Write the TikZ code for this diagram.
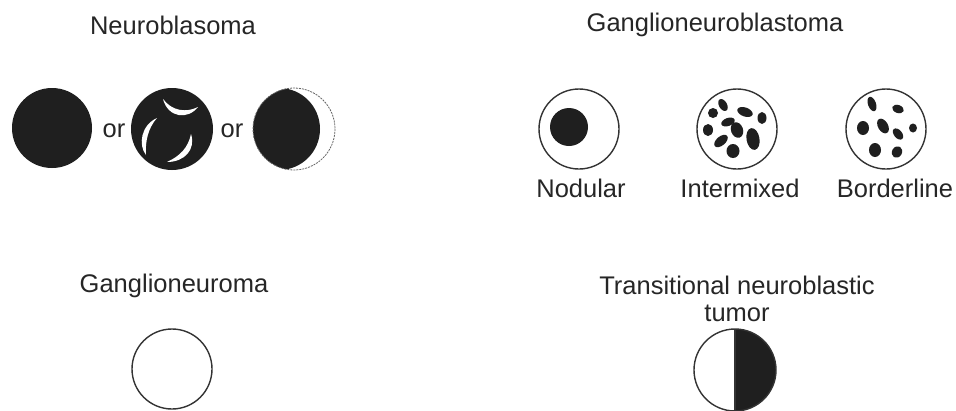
\documentclass[tikz,border=0pt]{standalone}
\usepackage{fontspec}
\setmainfont{Liberation Sans}
\begin{document}
\begin{tikzpicture}[x=1pt,y=-1pt,
  lbl/.style={font=\fontsize{25.5}{27}\selectfont, inner sep=0pt, text=black!85},
  outl/.style={draw=black!80, line width=1.4pt},
  ink/.style={fill=black!88},
  blob/.style={fill=black!88}]
\useasboundingbox[fill=white] (0,0) rectangle (956,410);

% titles
\node[lbl] (t1) at (173,25) {Neuroblasoma};
\node[lbl] (t2) at (715,25) {Ganglioneuroblastoma};
\node[lbl] (t3) at (174,286) {Ganglioneuroma};
\node[lbl, align=center] (t4) at (737,299) {Transitional neuroblastic\\tumor};

% Neuroblastoma
\fill[ink] (52,128) circle (40);
\node[lbl] (or1) at (114,131) {or};
\fill[ink] (172,129) circle (41);
\fill[white] (163,99) .. controls (168,118) and (188,120) .. (198,107)
  .. controls (186,113) and (172,111) .. cycle;
\fill[white] (157,118) .. controls (141,125) and (138,145) .. (146,155)
  .. controls (145,142) and (148,128) .. cycle;
\fill[white] (191,134) .. controls (196,149) and (185,162) .. (167,162)
  .. controls (180,156) and (188,148) .. cycle;
\node[lbl] (or2) at (232,131) {or};
\begin{scope}
  \clip (294,129) circle (41);
  \fill[ink] (279,129) circle (41);
\end{scope}
\draw[draw=black!60, line width=0.8pt, dash pattern=on 2pt off 1pt] (294,129) circle (41);

% Ganglioneuroblastoma
\draw[outl] (579,129) circle (40);
\fill[ink] (569,127) circle (19);
\node[lbl] (n1) at (581,188) {Nodular};

\draw[outl] (737,129) circle (40);
\foreach \x/\y/\a/\b/\r in {723/105/4/6.5/30, 713/113/5/5/0, 745/112/8/4.5/-20,
  762/118/4.5/6/0, 728/122/7/4/20, 708/130/5/6/0, 737/130/6/8/20,
  753/139/6.5/11/10, 721/141/8/4.5/40, 733/151/6.5/7/0}
  \fill[blob, rotate around={\r:(\x,\y)}] (\x,\y) ellipse (\a pt and \b pt);
\node[lbl] (n2) at (740,188) {Intermixed};

\draw[outl] (886,129) circle (40);
\foreach \x/\y/\a/\b/\r in {872/104/4/7.5/20, 898/109/6/4/-20, 863/128/6/7/0,
  883/126/5/8/30, 898/134/4/6.5/40, 913/128/4/4.5/0, 875/150/6/7/0,
  897/152/5/6/-30}
  \fill[blob, rotate around={\r:(\x,\y)}] (\x,\y) ellipse (\a pt and \b pt);
\node[lbl] (n3) at (895,188) {Borderline};

% Ganglioneuroma
\draw[outl] (172,369) circle (40);

% Transitional
\begin{scope}
  \clip (735,320) rectangle (790,420);
  \fill[ink] (735,370) circle (41);
\end{scope}
\draw[outl] (735,370) circle (41);
\draw[outl] (735,329) -- (735,411);
\end{tikzpicture}
\end{document}
